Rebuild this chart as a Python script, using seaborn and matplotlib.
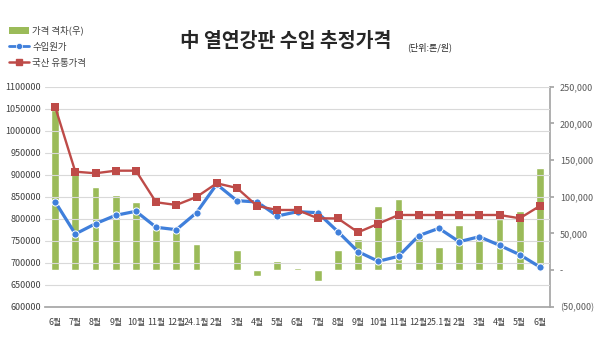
import matplotlib
matplotlib.use("Agg")
import matplotlib.pyplot as plt
import seaborn as sns
import numpy as np
import pandas as pd
from matplotlib.ticker import FuncFormatter, MultipleLocator
from matplotlib.lines import Line2D
from matplotlib.patches import Patch

months = ["6월", "7월", "8월", "9월", "10월", "11월", "12월", "24.1월", "2월", "3월",
          "4월", "5월", "6월", "7월", "8월", "9월", "10월", "11월", "12월", "25.1월",
          "2월", "3월", "4월", "5월", "6월"]
import_price = [838600, 765200, 788600, 807700, 816800, 780500, 775000, 813600, 878200, 840900,
                838000, 806100, 815900, 813600, 770500, 725000, 703200, 714500, 761400, 778200,
                747700, 759100, 739500, 718200, 690200]
domestic_price = [1054500, 906800, 903200, 909100, 909100, 837300, 831200, 849300, 880400, 869800,
                  828900, 819800, 819800, 800900, 800500, 769100, 788600, 808400, 808400, 808400,
                  808400, 808400, 808400, 800900, 829000]
price_gap = [218200, 140400, 113800, 102400, 92700, 56600, 53300, 36000, 2000, 27700,
             -8500, 11700, 3000, -14400, 27200, 42300, 86800, 96400, 47800, 31900,
             61100, 49300, 69000, 80800, 139500]

df = pd.DataFrame({"month": months, "idx": np.arange(len(months)),
                   "import": import_price, "domestic": domestic_price, "gap": price_gap})

sns.set_theme(style="white")
plt.rcParams["font.family"] = ["Noto Sans CJK KR", "DejaVu Sans"]

fig = plt.figure(figsize=(6.0, 3.38), dpi=100)
ax = fig.add_axes([0.075, 0.0926, 0.8417, 0.651])
ax2 = ax.twinx()

GREEN = "#9BBB59"
BLUE = "#3F7FDB"
RED = "#BE4B48"

# bars on secondary axis
sns.barplot(data=df, x="idx", y="gap", ax=ax2, color=GREEN, width=0.38,
            saturation=1, native_scale=False)
ax2.set_ylim(-50000, 250000)
ax2.yaxis.set_major_locator(MultipleLocator(50000))

def rfmt(v, p):
    if abs(v) < 1:
        return "-"
    if v < 0:
        return "({:,.0f})".format(-v)
    return "{:,.0f}".format(v)
ax2.yaxis.set_major_formatter(FuncFormatter(rfmt))

# lines on primary axis
ax.set_zorder(ax2.get_zorder() + 1)
ax.patch.set_visible(False)
sns.lineplot(data=df, x="idx", y="import", ax=ax, color=BLUE, lw=2.3,
             marker="o", markersize=5.2, markeredgecolor="white", markeredgewidth=0.7)
sns.lineplot(data=df, x="idx", y="domestic", ax=ax, color=RED, lw=1.7,
             marker="s", markersize=5.2, markeredgecolor=RED, markeredgewidth=0)
ax.set_ylim(600000, 1100000)
ax.yaxis.set_major_locator(MultipleLocator(50000))
ax.yaxis.set_major_formatter(FuncFormatter(lambda v, p: "{:.0f}".format(v)))
ax.set_xlim(-0.5, len(months) - 0.5)
ax2.set_xlim(-0.5, len(months) - 0.5)
ax.set_xticks(np.arange(len(months)))
ax.set_xticklabels(months)
ax.set_xticks(np.arange(len(months) + 1) - 0.5, minor=True)

ax.grid(axis="y", color="#D9D9D9", lw=0.8)
ax.set_axisbelow(True)
ax2.grid(False)

for a in (ax, ax2):
    a.set_xlabel("")
    a.set_ylabel("")
    for s in a.spines.values():
        s.set_visible(False)
ax2.spines["right"].set_visible(True)
ax2.spines["right"].set_color("#A6A6A6")
ax.spines["bottom"].set_visible(True)
ax.spines["bottom"].set_color("#A6A6A6")

ax.tick_params(axis="y", labelsize=6.5, colors="#404040", length=0, pad=3)
ax.tick_params(axis="x", which="major", labelsize=6.4, colors="#404040", length=0, pad=8)
ax.tick_params(axis="x", which="minor", length=3, color="#A6A6A6", direction="out")
ax2.tick_params(axis="y", labelsize=6.5, colors="#595959", length=3, color="#A6A6A6", pad=4)
ax2.tick_params(axis="x", length=0, labelbottom=False)

fig.text(0.30, 0.878, "中 열연강판 수입 추정가격", fontsize=14, fontweight="bold",
         color="#262626", ha="left", va="center")
fig.text(0.678, 0.86, "(단위:톤/원)", fontsize=6.5, color="#262626", ha="left", va="center")

handles = [Patch(facecolor=GREEN, edgecolor="none"),
           Line2D([0], [0], color=BLUE, lw=2, marker="o", markersize=4.5,
                  markeredgecolor="white", markeredgewidth=0.5),
           Line2D([0], [0], color=RED, lw=1.8, marker="s", markersize=4.5)]
labels = ["가격 격차(우)", "수입원가", "국산 유통가격"]
fig.legend(handles, labels, loc="upper left", bbox_to_anchor=(0.008, 0.935),
           frameon=False, fontsize=6.8, handlelength=2.2, handletextpad=0.3,
           labelspacing=0.75, borderaxespad=0, labelcolor="#404040")

fig.savefig("out.png", dpi=100)
